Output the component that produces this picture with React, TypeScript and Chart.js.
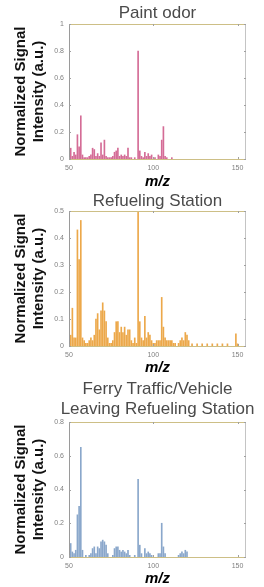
import React, { useEffect, useRef } from "react";
import { Chart, registerables } from "chart.js";

Chart.register(...registerables);

const FONT = "'Liberation Sans', Arial, Helvetica, sans-serif";

const xTicks = [50, 100, 150];
const xMin = 50;
const xMax = 155;

const paintTitle = ["Paint odor"];
const paintMz = [50, 51, 52, 53, 54, 55, 56, 57, 58, 59, 60, 61, 62, 63, 64, 65, 66, 67, 68, 69, 70, 71, 72, 73, 74, 75, 76, 77, 78, 79, 80, 81, 82, 83, 84, 85, 86, 87, 89, 91, 92, 93, 94, 95, 96, 97, 98, 99, 101, 103, 104, 105, 106, 107, 108, 111];
const paintIntensity = [0.03, 0.08, 0.02, 0.05, 0.03, 0.18, 0.09, 0.32, 0.03, 0.01, 0.01, 0.01, 0.02, 0.03, 0.08, 0.07, 0.02, 0.04, 0.02, 0.12, 0.03, 0.14, 0.02, 0.01, 0.01, 0.01, 0.02, 0.05, 0.06, 0.08, 0.02, 0.03, 0.02, 0.03, 0.02, 0.08, 0.01, 0.01, 0.01, 0.8, 0.06, 0.02, 0.01, 0.05, 0.02, 0.04, 0.02, 0.03, 0.01, 0.03, 0.02, 0.14, 0.24, 0.02, 0.01, 0.01];
const paintYTicks = [0, 0.2, 0.4, 0.6, 0.8, 1];

const refuelTitle = ["Refueling Station"];
const refuelMz = [50, 51, 52, 53, 54, 55, 56, 57, 58, 59, 60, 61, 62, 63, 64, 65, 66, 67, 68, 69, 70, 71, 72, 73, 74, 75, 76, 77, 78, 79, 80, 81, 82, 83, 84, 85, 86, 87, 88, 89, 90, 91, 92, 93, 94, 95, 96, 97, 98, 99, 100, 101, 102, 103, 104, 105, 106, 107, 108, 109, 110, 111, 112, 113, 115, 116, 117, 118, 119, 120, 121, 123, 126, 129, 132, 135, 138, 141, 144, 149, 150];
const refuelIntensity = [0.03, 0.04, 0.14, 0.03, 0.03, 0.43, 0.32, 0.465, 0.03, 0.02, 0.01, 0.01, 0.02, 0.03, 0.02, 0.04, 0.1, 0.12, 0.06, 0.13, 0.16, 0.13, 0.09, 0.03, 0.01, 0.01, 0.02, 0.05, 0.09, 0.09, 0.05, 0.07, 0.05, 0.07, 0.04, 0.06, 0.06, 0.02, 0.01, 0.03, 0.01, 0.5, 0.09, 0.03, 0.02, 0.11, 0.03, 0.05, 0.04, 0.02, 0.01, 0.01, 0.02, 0.02, 0.02, 0.18, 0.07, 0.03, 0.02, 0.02, 0.02, 0.02, 0.01, 0.01, 0.01, 0.02, 0.03, 0.02, 0.05, 0.04, 0.02, 0.008, 0.008, 0.008, 0.008, 0.008, 0.008, 0.008, 0.008, 0.045, 0.008];
const refuelYTicks = [0, 0.1, 0.2, 0.3, 0.4, 0.5];

const ferryTitle = ["Ferry Traffic/Vehicle", "Leaving Refueling Station"];
const ferryMz = [50, 51, 52, 53, 54, 55, 56, 57, 58, 60, 62, 63, 64, 65, 66, 67, 68, 69, 70, 71, 72, 73, 76, 77, 78, 79, 80, 81, 82, 83, 84, 85, 86, 89, 91, 92, 93, 95, 96, 97, 98, 99, 103, 104, 105, 106, 107, 115, 116, 117, 118, 119, 120];
const ferryIntensity = [0.02, 0.08, 0.03, 0.02, 0.04, 0.25, 0.3, 0.65, 0.04, 0.01, 0.01, 0.02, 0.05, 0.06, 0.02, 0.06, 0.05, 0.09, 0.1, 0.09, 0.07, 0.02, 0.01, 0.05, 0.06, 0.06, 0.04, 0.03, 0.04, 0.03, 0.02, 0.04, 0.01, 0.01, 0.46, 0.07, 0.02, 0.05, 0.02, 0.03, 0.02, 0.01, 0.02, 0.02, 0.2, 0.06, 0.02, 0.01, 0.02, 0.03, 0.02, 0.04, 0.03];
const ferryYTicks = [0, 0.2, 0.4, 0.6, 0.8];

const yTitle = ["Normalized Signal", "Intensity (a.u.)"];
const xTitle = "m/z";

const framePlugin = {
  id: "frame",
  afterDatasetsDraw(chart: any) {
    const { ctx, chartArea, scales } = chart;
    const { left, right, top, bottom } = chartArea;
    ctx.save();
    ctx.lineWidth = 1;
    ctx.strokeStyle = "#cdbf86";
    ctx.beginPath();
    ctx.moveTo(left, top + 0.5);
    ctx.lineTo(right, top + 0.5);
    ctx.moveTo(left, bottom + 0.5);
    ctx.lineTo(right, bottom + 0.5);
    ctx.stroke();
    ctx.strokeStyle = "#9a9a9a";
    ctx.beginPath();
    ctx.moveTo(left + 0.5, top);
    ctx.lineTo(left + 0.5, bottom + 1);
    ctx.stroke();
    ctx.strokeStyle = "#c4c4c4";
    ctx.beginPath();
    ctx.moveTo(right - 0.5, top);
    ctx.lineTo(right - 0.5, bottom + 1);
    ctx.stroke();
    ctx.strokeStyle = "#a0a0a0";
    ctx.beginPath();
    scales.x.ticks.forEach((t: any) => {
      const px = Math.round(scales.x.getPixelForValue(t.value)) + 0.5;
      ctx.moveTo(px, bottom);
      ctx.lineTo(px, bottom - 2);
      ctx.moveTo(px, top);
      ctx.lineTo(px, top + 2);
    });
    scales.y.ticks.forEach((t: any) => {
      const py = Math.round(scales.y.getPixelForValue(t.value)) + 0.5;
      ctx.moveTo(left, py);
      ctx.lineTo(left + 2, py);
      ctx.moveTo(right, py);
      ctx.lineTo(right - 2, py);
    });
    ctx.stroke();
    ctx.restore();
  },
};

type PanelProps = {
  top: number;
  height: number;
  title: string[];
  titleTop: number;
  plotTop: number;
  mz: number[];
  values: number[];
  color: string;
  yMax: number;
  yTicks: number[];
  axisHeight: number;
  xTitlePad: number;
};

function Panel(p: PanelProps) {
  const ref = useRef<HTMLCanvasElement | null>(null);
  useEffect(() => {
    if (!ref.current) return;
    const chart = new Chart(ref.current, {
      type: "bar",
      data: {
        datasets: [
          {
            data: p.mz.map((m, i) => ({ x: m, y: p.values[i] })),
            backgroundColor: p.color,
            borderWidth: 0,
            barThickness: 1,
          } as any,
        ],
      },
      options: {
        animation: false,
        responsive: false,
        maintainAspectRatio: false,
        layout: { padding: { top: p.plotTop, right: 18, bottom: 0, left: 0 } },
        plugins: {
          legend: { display: false },
          tooltip: { enabled: false },
          title: { display: false },
        },
        scales: {
          x: {
            type: "linear",
            min: xMin,
            max: xMax,
            offset: false,
            grid: { display: false, drawTicks: false },
            border: { display: false },
            ticks: {
              font: { family: FONT, size: 7 },
              color: "#808080",
              padding: 4.5,
              maxRotation: 0,
              autoSkip: false,
              callback: (v: any) => String(v),
            },
            afterBuildTicks: (s: any) => {
              s.ticks = xTicks.map((v) => ({ value: v }));
            },
            afterFit: (s: any) => {
              s.height = p.axisHeight;
            },
            title: {
              display: true,
              text: xTitle,
              color: "#000",
              font: { family: FONT, size: 15, weight: "bold", style: "italic", lineHeight: 1 },
              padding: { top: 0, bottom: p.xTitlePad },
            },
          },
          y: {
            type: "linear",
            min: 0,
            max: p.yMax,
            grid: { display: false, drawTicks: false },
            border: { display: false },
            ticks: {
              font: { family: FONT, size: 7 },
              color: "#808080",
              padding: 5,
              autoSkip: false,
              callback: (v: any) => String(v),
            },
            afterBuildTicks: (s: any) => {
              s.ticks = p.yTicks.map((v) => ({ value: v }));
            },
            afterFit: (s: any) => {
              s.width = 69;
            },
            title: {
              display: true,
              text: yTitle,
              color: "#111",
              font: { family: FONT, size: 15, weight: "bold", lineHeight: "18px" } as any,
              padding: { top: 12, bottom: 0 },
            },
          },
        },
      } as any,
      plugins: [framePlugin],
    });
    return () => chart.destroy();
  }, []);
  return (
    <>
      <canvas
        ref={ref}
        width={264}
        height={p.height}
        style={{ position: "absolute", left: 0, top: p.top, width: 264, height: p.height, display: "block" }}
      />
      <div
        style={{
          position: "absolute",
          left: 0,
          width: 315,
          top: p.titleTop,
          textAlign: "center",
          whiteSpace: "nowrap",
          fontFamily: FONT,
          fontSize: 17,
          lineHeight: "20px",
          color: "#4a4a4a",
        }}
      >
        {p.title.map((t, i) => (
          <div key={i}>{t}</div>
        ))}
      </div>
    </>
  );
}

export default function App() {
  return (
    <div style={{ position: "absolute", left: 0, top: 0, width: 264, height: 587, background: "#fff", overflow: "hidden" }}>
      <Panel
        top={0}
        height={190}
        title={paintTitle}
        titleTop={3}
        plotTop={24}
        mz={paintMz}
        values={paintIntensity}
        color="#d46c96"
        yMax={1}
        yTicks={paintYTicks}
        axisHeight={31}
        xTitlePad={0.5}
      />
      <Panel
        top={190}
        height={188}
        title={refuelTitle}
        titleTop={191}
        plotTop={21}
        mz={refuelMz}
        values={refuelIntensity}
        color="#eca84a"
        yMax={0.5}
        yTicks={refuelYTicks}
        axisHeight={32}
        xTitlePad={2.5}
      />
      <Panel
        top={378}
        height={209}
        title={ferryTitle}
        titleTop={379}
        plotTop={44}
        mz={ferryMz}
        values={ferryIntensity}
        color="#8aa7cb"
        yMax={0.8}
        yTicks={ferryYTicks}
        axisHeight={30}
        xTitlePad={0.5}
      />
    </div>
  );
}
